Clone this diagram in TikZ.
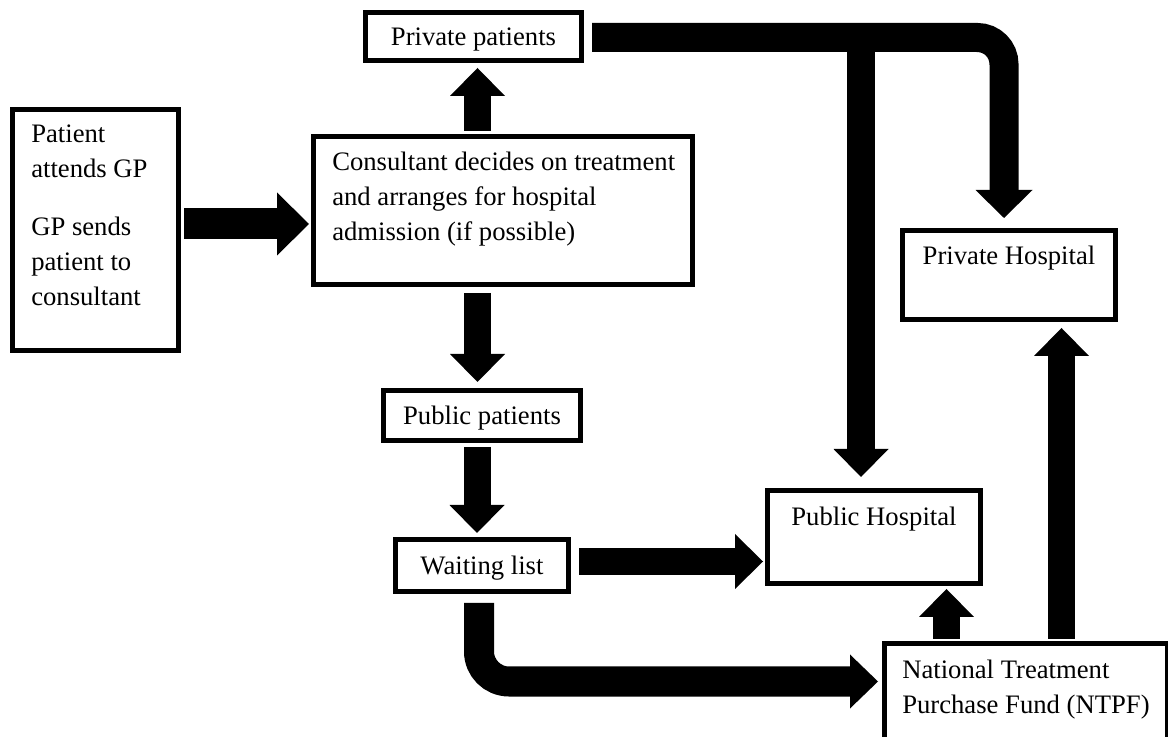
\documentclass[tikz,border=0pt]{standalone}
\usepackage{fontspec}
\setmainfont{Liberation Serif}
\usepackage{tikz}
\usetikzlibrary{arrows.meta}
\usetikzlibrary{calc}
\newcommand{\boxfont}{\fontsize{20pt}{26.25pt}\selectfont}
\tikzstyle{box}=[draw, line width=3.75pt, inner sep=0, font=\boxfont, text height=13.5pt, text depth=0pt]
\tikzstyle{boxtext}=[inner sep=0, align=left, anchor=north west, font=\boxfont]
\tikzstyle{flow}=[line width=20.25pt, -{Triangle[length=21pt, width=41.25pt, line width=0pt]}]
\tikzstyle{bigflow}=[line width=23.25pt, -{Triangle[length=24pt, width=47.25pt, line width=0pt]}]
\tikzstyle{curveflow}=[line width=22.5pt, rounded corners=22.5pt, -{Triangle[length=21pt, width=40.5pt, line width=0pt]}]
\tikzstyle{topflow}=[line width=21.75pt, rounded corners=20pt, -{Triangle[length=21pt, width=42.75pt, line width=0pt]}]

\begin{document}
\begin{tikzpicture}[x=0.75pt, y=-0.75pt]
    \clip (0,0) rectangle (1168,737);
    % boxes
    \node[box, minimum width=124.5pt, minimum height=180.75pt] (gp) at (95.5,230) {};
    \node[box, minimum width=284.25pt, minimum height=111pt] (cons) at (503,210.5) {};
    \node[box, minimum width=162pt, minimum height=36pt] (pp) at (473.5,36.5) {Private patients};
    \node[box, minimum width=147.75pt, minimum height=37.5pt] (pub) at (482,415.5) {Public patients};
    \node[box, minimum width=129.75pt, minimum height=39pt] (wait) at (482,565.5) {Waiting list};
    \node[box, minimum width=159.75pt, minimum height=69.75pt, text depth=30pt] (pubhosp) at (874,537) {Public Hospital};
    \node[box, minimum width=159.75pt, minimum height=66.75pt, text depth=28.5pt] (privhosp) at (1009,275) {Private Hospital};
    \node[box, minimum width=212.25pt, minimum height=78pt] (ntpf) at (1026,695.5) {};
    \node[boxtext] (gptext) at ($(gp.north west)+(21,18)$) {Patient\\attends GP\\[17.25pt]GP sends\\patient to\\consultant};
    \node[boxtext] (constext) at ($(cons.north west)+(21,18)$) {Consultant decides on treatment\\and arranges for hospital\\admission (if possible)};
    \node[boxtext] (ntpftext) at ($(ntpf.north west)+(20,19)$) {National Treatment\\Purchase Fund (NTPF)};
    % arrows
    \draw[bigflow] ($(gp.east)+(3,-6)$) -- ($(gp.east -| cons.west)+(-2,-6)$);
    \draw[flow] ($(pp.south |- cons.north)+(4,-3)$) -- ($(pp.south)+(4,5)$);
    \draw[flow] ($(pub.north |- cons.south)+(-4.5,6)$) -- ($(pub.north)+(-4.5,-6)$);
    \draw[flow] ($(pub.south)+(-5,4)$) -- ($(wait.north)+(-5,-4)$);
    \draw[flow] ($(wait.east)+(8,-4)$) -- ($(wait.east -| pubhosp.west)+(-2,-4)$);
    \draw[curveflow] ($(wait.south)+(-3,9)$) |- ($(ntpf.west)+(-4,-14)$);
    \draw[flow] ($(pubhosp.south east |- ntpf.north)+(-36.5,-2)$) -- ($(pubhosp.south east)+(-36.5,3)$);
    \draw[flow] ($(privhosp.south |- ntpf.north)+(52.5,-2)$) -- ($(privhosp.south)+(52.5,6)$);
    \draw[topflow] ($(pp.east)+(8,1)$) -| ($(privhosp.north)+(-5,-10)$);
    \coordinate (fork) at ($(pubhosp.north |- pp.east)+(-13,1)$);
    \draw[flow, line width=21pt] (fork) -- ($(pubhosp.north)+(-13,-11)$);
\end{tikzpicture}
\end{document}
